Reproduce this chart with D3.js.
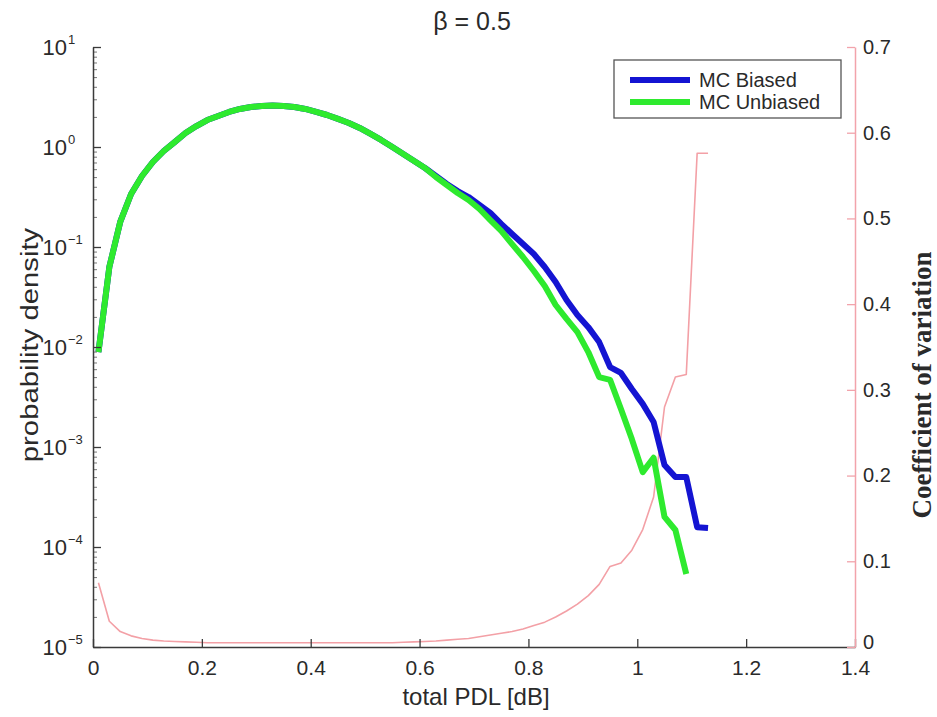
<!DOCTYPE html>
<html>
<head>
<meta charset="utf-8">
<script src="https://cdn.jsdelivr.net/npm/d3@7/dist/d3.min.js"></script>
<style>
  html, body { margin: 0; padding: 0; background: #fff; }
  svg { display: block; }
  text { font-family: "Liberation Sans", Arial, Helvetica, sans-serif; fill: #2a2a2a; }
</style>
</head>
<body>
<svg id="chart" width="937" height="717"></svg>
<script>
// ---------------- DATA ----------------
const titleText = "β = 0.5";
const xLabel = "total PDL [dB]";
const yLabelLeft = "probability density";
const yLabelRight = "Coefficient of variation";
const seriesNames = ["MC Biased", "MC Unbiased"];

const xTicks = [0, 0.2, 0.4, 0.6, 0.8, 1, 1.2, 1.4];
const xTickLabels = ["0", "0.2", "0.4", "0.6", "0.8", "1", "1.2", "1.4"];
const yLeftExponents = [1, 0, -1, -2, -3, -4, -5];
const yRightTicks = [0, 0.1, 0.2, 0.3, 0.4, 0.5, 0.6, 0.7];

// bin centres (total PDL, dB)
const pdlBiased = [0.01,0.03,0.05,0.07,0.09,0.11,0.13,0.15,0.17,0.19,0.21,0.23,0.25,0.27,0.29,0.31,0.33,0.35,0.37,0.39,0.41,0.43,0.45,0.47,0.49,0.51,0.53,0.55,0.57,0.59,0.61,0.63,0.65,0.67,0.69,0.71,0.73,0.75,0.77,0.79,0.81,0.83,0.85,0.87,0.89,0.91,0.93,0.95,0.97,0.99,1.01,1.03,1.05,1.07,1.09,1.11,1.13];
const densityBiased = [0.0089,0.063,0.178,0.339,0.513,0.708,0.912,1.12,1.38,1.62,1.86,2.04,2.24,2.40,2.51,2.57,2.60,2.57,2.51,2.40,2.24,2.09,1.91,1.74,1.55,1.35,1.17,1.00,0.851,0.724,0.617,0.513,0.427,0.363,0.316,0.263,0.219,0.170,0.135,0.107,0.0851,0.0631,0.0447,0.0295,0.0209,0.0158,0.0112,0.0063,0.0055,0.0038,0.0027,0.00178,0.00066,0.00050,0.00050,0.000158,0.000155];

const pdlUnbiased = [0.01,0.03,0.05,0.07,0.09,0.11,0.13,0.15,0.17,0.19,0.21,0.23,0.25,0.27,0.29,0.31,0.33,0.35,0.37,0.39,0.41,0.43,0.45,0.47,0.49,0.51,0.53,0.55,0.57,0.59,0.61,0.63,0.65,0.67,0.69,0.71,0.73,0.75,0.77,0.79,0.81,0.83,0.85,0.87,0.89,0.91,0.93,0.95,0.97,0.99,1.01,1.03,1.05,1.07,1.09];
const densityUnbiased = [0.0089,0.063,0.178,0.339,0.513,0.708,0.912,1.12,1.38,1.62,1.86,2.04,2.24,2.40,2.51,2.57,2.60,2.57,2.51,2.40,2.24,2.09,1.91,1.74,1.55,1.35,1.17,1.00,0.851,0.724,0.617,0.501,0.417,0.347,0.295,0.240,0.186,0.145,0.107,0.0794,0.0575,0.0407,0.0263,0.0191,0.0141,0.0089,0.0050,0.0047,0.0024,0.0012,0.00056,0.00078,0.00020,0.000148,0.0000537];

const pdlCV = pdlBiased;
const coefVar = [0.075,0.030,0.018,0.013,0.010,0.008,0.007,0.0065,0.006,0.0055,0.005,0.005,0.005,0.005,0.005,0.005,0.005,0.005,0.005,0.005,0.005,0.005,0.005,0.005,0.005,0.005,0.005,0.005,0.0055,0.006,0.0065,0.007,0.008,0.009,0.010,0.012,0.014,0.016,0.018,0.021,0.025,0.029,0.035,0.042,0.050,0.060,0.073,0.094,0.098,0.113,0.137,0.175,0.280,0.315,0.318,0.576,0.576];

// ---------------- LAYOUT ----------------
const svg = d3.select("#chart");
const M = { left: 93, right: 855, top: 47, bottom: 647 };

const x = d3.scaleLinear().domain([0, 1.4]).range([M.left, M.right]);
const yL = d3.scaleLog().domain([1e-5, 1e1]).range([M.bottom, M.top]);
const yR = d3.scaleLinear().domain([0, 0.7]).range([M.bottom, M.top]);

const axisColor = "#3a3a3a";
const pink = "#f2a3ab";
const pinkText = "#e8606e";

// ---------------- RED CV LINE ----------------
svg.append("path")
  .datum(pdlCV.map((p, i) => [p, coefVar[i]]))
  .attr("fill", "none")
  .attr("stroke", "#f3a0a6")
  .attr("stroke-width", 1.6)
  .attr("stroke-linejoin", "round")
  .attr("d", d3.line().x(d => x(d[0])).y(d => yR(d[1])));

// ---------------- DENSITY LINES ----------------
const lineL = d3.line().x(d => x(d[0])).y(d => yL(d[1]));
svg.append("path")
  .datum(pdlBiased.map((p, i) => [p, densityBiased[i]]))
  .attr("fill", "none").attr("stroke", "#1414d2").attr("stroke-width", 6)
  .attr("stroke-linejoin", "round").attr("d", lineL);
svg.append("path")
  .datum(pdlUnbiased.map((p, i) => [p, densityUnbiased[i]]))
  .attr("fill", "none").attr("stroke", "#2eea2e").attr("stroke-width", 6)
  .attr("stroke-linejoin", "round").attr("d", lineL);

// ---------------- AXES ----------------
// bottom axis
const gx = svg.append("g").attr("transform", `translate(0,${M.bottom})`)
  .call(d3.axisBottom(x).tickValues(xTicks).tickSizeInner(-8).tickSizeOuter(0)
    .tickPadding(13).tickFormat((d, i) => xTickLabels[i]));
gx.select(".domain").attr("stroke", axisColor).attr("stroke-width", 1.5);
gx.selectAll(".tick line").attr("stroke", axisColor).attr("stroke-width", 1.3);
gx.selectAll(".tick text").attr("font-size", 21).attr("fill", "#2a2a2a")
  .style("font-family", "'Liberation Sans', Arial, sans-serif");

// left log axis
const minorL = [];
for (let e = -5; e < 1; e++) for (let k = 2; k <= 9; k++) minorL.push(k * Math.pow(10, e));
const gyMinor = svg.append("g").attr("transform", `translate(${M.left},0)`)
  .call(d3.axisLeft(yL).tickValues(minorL).tickSizeInner(-4).tickSizeOuter(0).tickFormat(""));
gyMinor.select(".domain").remove();
gyMinor.selectAll(".tick line").attr("stroke", "#777").attr("stroke-width", 1);

const gy = svg.append("g").attr("transform", `translate(${M.left},0)`)
  .call(d3.axisLeft(yL).tickValues(yLeftExponents.map(e => Math.pow(10, e)))
    .tickSizeInner(-8).tickSizeOuter(0).tickPadding(14).tickFormat(""));
gy.select(".domain").attr("stroke", axisColor).attr("stroke-width", 1.5);
gy.selectAll(".tick line").attr("stroke", axisColor).attr("stroke-width", 1.3);
gy.selectAll(".tick").each(function(d, i) {
  const e = yLeftExponents[i];
  const g = d3.select(this);
  g.append("text")
    .attr("x", -26).attr("dy", "0.36em").attr("text-anchor", "end")
    .attr("font-size", 22).attr("fill", "#2a2a2a").text("10");
  g.append("text")
    .attr("x", -25).attr("dy", "-0.25em").attr("text-anchor", "start")
    .attr("font-size", 13).attr("fill", "#2a2a2a")
    .text(e < 0 ? "\u2212" + Math.abs(e) : String(e));
});

// right linear axis
const gr = svg.append("g").attr("transform", `translate(${M.right},0)`)
  .call(d3.axisRight(yR).tickValues(yRightTicks).tickSizeInner(-8).tickSizeOuter(0)
    .tickPadding(8).tickFormat(d => d === 0 ? "0" : d3.format(".1f")(d)));
gr.select(".domain").attr("stroke", pink).attr("stroke-width", 1.5);
gr.selectAll(".tick line").attr("stroke", pink).attr("stroke-width", 1.3);
gr.selectAll(".tick text").attr("font-size", 20).attr("fill", pinkText)
  .style("font-family", "'Liberation Sans', Arial, sans-serif");
// lift the "0" label slightly so it does not collide with the "1.4" tick label
gr.selectAll(".tick").filter(d => d === 0).select("text").attr("dy", "0.05em");

// ---------------- LABELS ----------------
svg.append("text").attr("x", 472).attr("y", 30).attr("text-anchor", "middle")
  .attr("font-size", 25).text(titleText);
svg.append("text").attr("x", 476).attr("y", 705).attr("text-anchor", "middle")
  .attr("font-size", 24).text(xLabel);
svg.append("text").attr("transform", "translate(38,345) rotate(-90) scale(1.22,1)")
  .attr("text-anchor", "middle").attr("font-size", 24).text(yLabelLeft);
svg.append("text").attr("transform", "translate(931,385) rotate(-90)")
  .attr("text-anchor", "middle").attr("font-size", 27).attr("font-weight", "bold")
  .style("font-family", "'Liberation Serif', 'Times New Roman', serif")
  .attr("fill", "#111").text(yLabelRight);

// ---------------- LEGEND ----------------
const lg = svg.append("g");
lg.append("rect").attr("x", 614).attr("y", 60).attr("width", 227).attr("height", 58)
  .attr("fill", "#fff").attr("stroke", "#555").attr("stroke-width", 1.3);
const legColors = ["#1414d2", "#2eea2e"];
seriesNames.forEach((n, i) => {
  const yy = 80 + i * 22;
  lg.append("line").attr("x1", 630).attr("x2", 690).attr("y1", yy).attr("y2", yy)
    .attr("stroke", legColors[i]).attr("stroke-width", 6);
  lg.append("text").attr("x", 699).attr("y", yy).attr("dy", "0.35em")
    .attr("font-size", 20).text(n);
});
</script>
</body>
</html>
